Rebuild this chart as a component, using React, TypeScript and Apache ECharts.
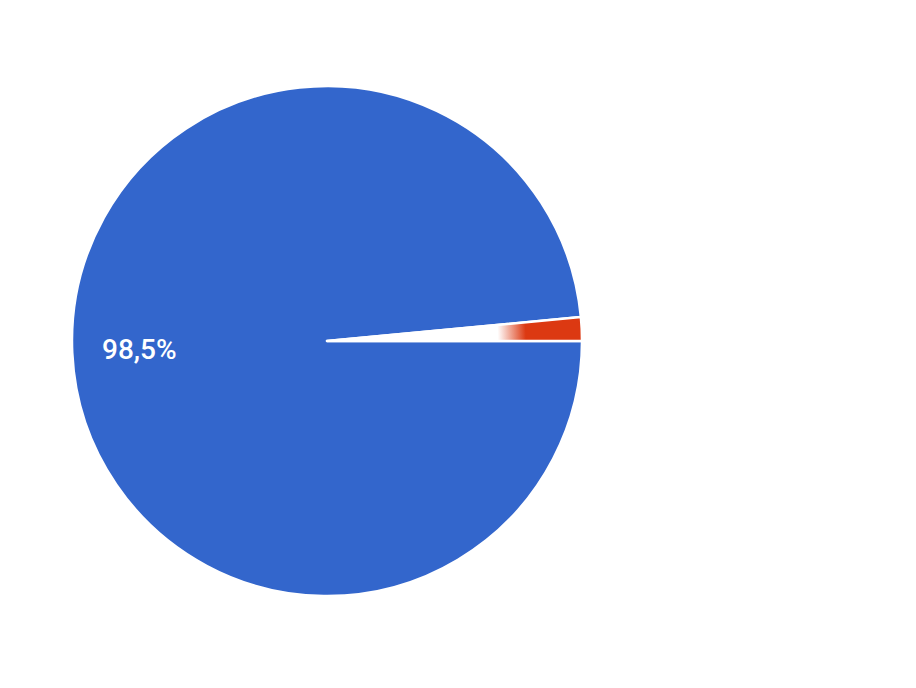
import React, { useEffect, useRef } from "react";
import * as echarts from "echarts";

const categories = ["Sí", "No"];
const values = [98.5, 1.5];
const colors = ["#3366CC", "#DC3912"];

const CX = 327;
const CY = 341;
const R = 255;

export default function App() {
  const ref = useRef<HTMLDivElement>(null);
  useEffect(() => {
    if (!ref.current) return;
    const chart = echarts.init(ref.current, undefined, { renderer: "svg" });
    const data = categories.map((name, i) => ({
      name,
      value: values[i],
      itemStyle: {
        color:
          i === 1
            ? {
                type: "radial",
                x: CX,
                y: CY,
                r: R,
                global: true,
                colorStops: [
                  { offset: 0, color: "#ffffff" },
                  { offset: 0.67, color: "#ffffff" },
                  { offset: 0.78, color: colors[1] },
                  { offset: 1, color: colors[1] },
                ],
              }
            : colors[i],
      },
    }));
    chart.setOption({
      animation: false,
      series: [
        {
          type: "pie",
          center: [CX, CY],
          radius: [0, R],
          startAngle: 0,
          clockwise: true,
          silent: true,
          label: { show: false },
          labelLine: { show: false },
          itemStyle: { borderColor: "#ffffff", borderWidth: 2.5 },
          data,
        },
        {
          type: "pie",
          center: [CX, CY],
          radius: [R * 0.45, R],
          startAngle: 0,
          clockwise: true,
          silent: true,
          itemStyle: { color: "rgba(0,0,0,0)", borderWidth: 0 },
          labelLine: { show: false },
          label: {
            show: true,
            position: "inside",
            color: "#ffffff",
            fontFamily: "Roboto",
            fontSize: 28,
            fontWeight: 500,
            formatter: (p: any) =>
              p.dataIndex === 0 ? String(p.value).replace(".", ",") + "%" : "",
          },
          data: categories.map((name, i) => ({ name, value: values[i] })),
        },
      ],
    });
    return () => chart.dispose();
  }, []);
  return (
    <div
      ref={ref}
      style={{ position: "fixed", left: 0, top: 0, width: 916, height: 688, background: "#ffffff" }}
    />
  );
}
